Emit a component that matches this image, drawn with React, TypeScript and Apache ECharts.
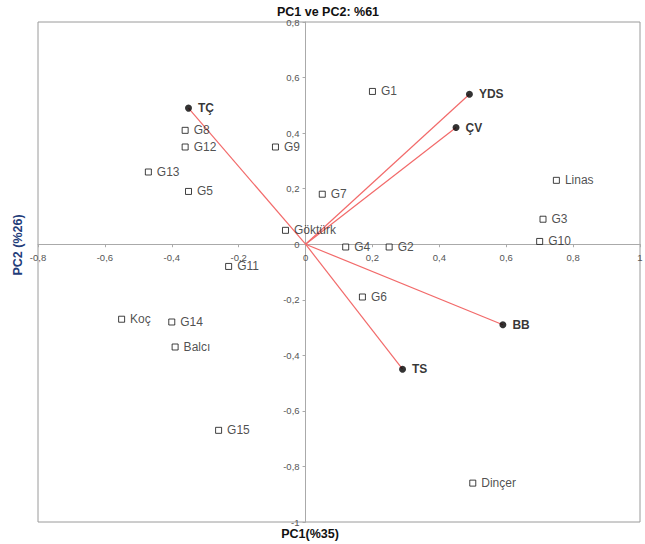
import React, { useEffect, useRef } from "react";
import * as echarts from "echarts";

const genotypeNames = ["G1", "G8", "G12", "G9", "G13", "G5", "G7", "Göktürk", "G4", "G2", "Linas", "G3", "G10", "G11", "Koç", "G14", "Balcı", "G6", "G15", "Dinçer"];
const genotypePC1 = [0.2, -0.36, -0.36, -0.09, -0.47, -0.35, 0.05, -0.06, 0.12, 0.25, 0.75, 0.71, 0.7, -0.23, -0.55, -0.4, -0.39, 0.17, -0.26, 0.5];
const genotypePC2 = [0.55, 0.41, 0.35, 0.35, 0.26, 0.19, 0.18, 0.05, -0.01, -0.01, 0.23, 0.09, 0.01, -0.08, -0.27, -0.28, -0.37, -0.19, -0.67, -0.86];

const traitNames = ["YDS", "ÇV", "TÇ", "BB", "TS"];
const traitPC1 = [0.49, 0.45, -0.35, 0.59, 0.29];
const traitPC2 = [0.54, 0.42, 0.49, -0.29, -0.45];

const xMin = -0.8, xMax = 1, yMin = -1, yMax = 0.8, tickStep = 0.2;

const fmt = (v: number) => {
  const r = Math.round(v * 10) / 10;
  if (Math.abs(r) < 1e-9) return "0";
  if (Number.isInteger(r)) return String(r);
  return r.toFixed(1).replace(".", ",");
};

const W = 645, H = 544;
const gridLeft = 38, gridRight = 5, gridTop = 22, gridBottom = 22;

export default function App() {
  const ref = useRef<HTMLDivElement>(null);
  useEffect(() => {
    document.body.style.margin = "0";
    if (!ref.current) return;
    const chart = echarts.init(ref.current, null, { renderer: "svg" });
    const font = "'Liberation Sans', Arial, sans-serif";
    const narrow = "'Liberation Sans Narrow', 'Liberation Sans', Arial, sans-serif";
    const plotW = W - gridLeft - gridRight;
    const plotH = H - gridTop - gridBottom;
    // shift axes so they cross at the origin (0,0) of the data scale
    const xAxisOffset = -((0 - yMin) / (yMax - yMin)) * plotH;
    const yAxisOffset = -((0 - xMin) / (xMax - xMin)) * plotW;
    const labelBase = { color: "#555", fontSize: 9.5, fontFamily: narrow, formatter: fmt };
    const vectorSeries = traitNames.map((n, i) => ({
      type: "line",
      name: n,
      data: [[0, 0], [traitPC1[i], traitPC2[i]]],
      symbol: "none",
      lineStyle: { color: "#f26a6a", width: 1.2 },
      silent: true,
      z: 2,
    }));
    chart.setOption({
      animation: false,
      title: {
        text: "PC1 ve PC2: %61",
        left: 323,
        textAlign: "center",
        top: 0,
        textStyle: { fontSize: 12.5, fontWeight: "bold", color: "#111", fontFamily: narrow },
      },
      grid: { left: gridLeft, right: gridRight, top: gridTop, bottom: gridBottom, show: true, borderColor: "#9a9a9a", borderWidth: 1, outerBoundsMode: "none" },
      xAxis: {
        type: "value",
        min: xMin,
        max: xMax,
        interval: tickStep,
        position: "bottom",
        offset: xAxisOffset,
        axisLine: { onZero: false, lineStyle: { color: "#aaa", width: 1 } },
        axisTick: { show: true, length: 3, lineStyle: { color: "#aaa" } },
        axisLabel: { ...labelBase, margin: 8 },
        splitLine: { show: false },
      },
      yAxis: {
        type: "value",
        min: yMin,
        max: yMax,
        interval: tickStep,
        position: "left",
        offset: yAxisOffset,
        axisLine: { onZero: false, lineStyle: { color: "#aaa", width: 1 } },
        axisTick: { show: true, length: 3, lineStyle: { color: "#aaa" } },
        axisLabel: { ...labelBase, margin: 6 },
        splitLine: { show: false },
      },
      series: [
        ...vectorSeries,
        {
          type: "scatter",
          data: genotypeNames.map((n, i) => [genotypePC1[i], genotypePC2[i], n]),
          symbol: "rect",
          symbolSize: 6,
          itemStyle: { color: "#fff", borderColor: "#111", borderWidth: 1 },
          label: {
            show: true,
            position: "right",
            distance: 5,
            formatter: (p: any) => p.data[2],
            color: "#222",
            fontSize: 12,
            fontFamily: font,
          },
          z: 3,
        },
        {
          type: "scatter",
          data: traitNames.map((n, i) => [traitPC1[i], traitPC2[i], n]),
          symbol: "circle",
          symbolSize: 7,
          itemStyle: { color: "#000" },
          label: {
            show: true,
            position: "right",
            distance: 6,
            formatter: (p: any) => p.data[2],
            color: "#000",
            fontSize: 12,
            fontWeight: "bold",
            fontFamily: font,
          },
          z: 4,
        },
      ],
      graphic: [
        {
          type: "text",
          x: 310,
          y: 534,
          style: { text: "PC1(%35)", fill: "#111", fontSize: 12.5, fontWeight: "bold", fontFamily: narrow, align: "center", verticalAlign: "middle" },
        },
        {
          type: "text",
          x: 18,
          y: 245,
          rotation: Math.PI / 2,
          style: { text: "PC2 (%26)", fill: "#1f3d7a", fontSize: 12.5, fontWeight: "bold", fontFamily: narrow, align: "center", verticalAlign: "middle" },
        },
      ],
    });
    return () => chart.dispose();
  }, []);
  return <div ref={ref} style={{ width: W, height: H }} />;
}
